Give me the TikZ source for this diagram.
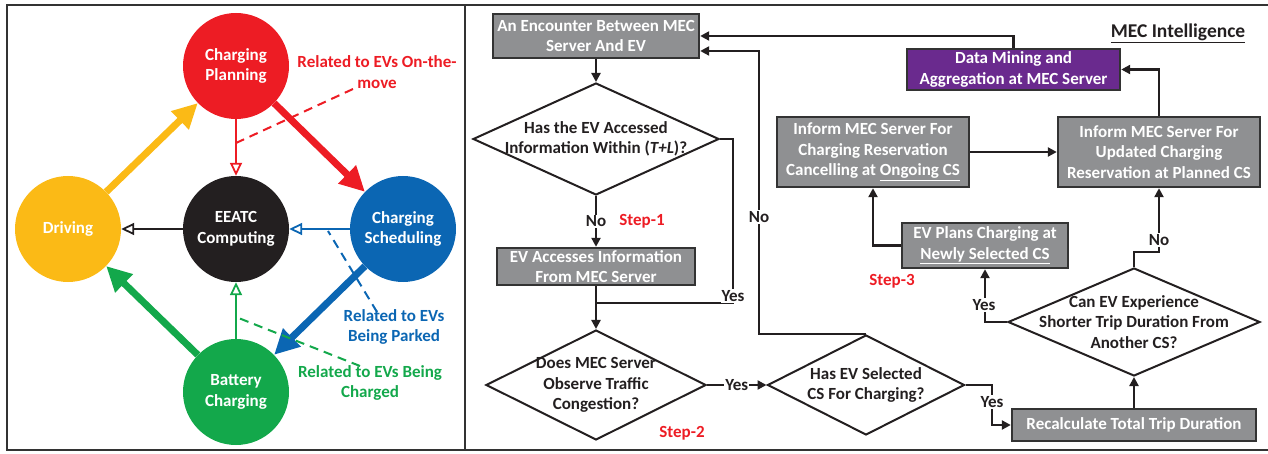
\documentclass[tikz,border=0pt]{standalone}
\usepackage{fontspec}
\setmainfont{Carlito}
\usetikzlibrary{arrows.meta,calc,shapes.geometric}
\definecolor{cpRed}{HTML}{ED1C24}
\definecolor{cpBlue}{HTML}{0B66B3}
\definecolor{cpYellow}{HTML}{FBBA16}
\definecolor{cpGreen}{HTML}{13A84B}
\definecolor{ink}{HTML}{231F20}
\definecolor{boxGray}{HTML}{8F9092}
\definecolor{boxEdge}{HTML}{333333}
\definecolor{minePurple}{HTML}{6A2A8E}
\tikzset{
%Define standard arrow tip
>={Triangle[length=9pt,width=9pt]},
%Define styles for the cycle on the left
phase/.style={circle, minimum size=106pt, inner sep=0pt, text=white, align=center},
bigarrow/.style={line width=7pt, -{Triangle[length=25pt,width=24pt]}},
thinarrow/.style={line width=1.8pt, -{Triangle[open,length=13pt,width=12pt,line width=1.8pt]}},
relation/.style={line width=2pt, dash pattern=on 9pt off 6pt},
reltext/.style={align=center, inner sep=0pt},
%Define styles for the flow chart
gbox/.style={rectangle, draw=boxEdge, fill=boxGray, line width=2.4pt, text=white, align=center, inner sep=0pt},
decision/.style={diamond, draw=ink, line width=2pt, inner sep=0pt},
qtext/.style={align=center, text=ink},
flow/.style={line width=2.4pt, draw=ink, ->},
tag/.style={fill=white, inner sep=1pt, text=ink},
steptag/.style={text=cpRed, inner sep=0pt},
}

\begin{document}
\begin{tikzpicture}[x=1pt, y=-1pt, font=\fontsize{17}{20.5}\selectfont\bfseries]
    \useasboundingbox (0,0) rectangle (1268,454);
    % Frame
    \draw[boxEdge, line width=2pt] (7,5) rectangle (1275,450);
    \draw[boxEdge, line width=2pt] (465,5) -- (465,450);

    % Cycle of EV states
    \node[phase, fill=cpRed] (plan) at (236,66) {Charging\\Planning};
    \node[phase, fill=ink] (core) at (236,229) {EEATC\\Computing};
    \node[phase, fill=cpYellow] (drive) at (68,229) {Driving};
    \node[phase, fill=cpBlue] (sched) at (403,229) {Charging\\Scheduling};
    \node[phase, fill=cpGreen] (batt) at (236,392) {Battery\\Charging};

    \draw[bigarrow, cpYellow] (drive) -- (plan);
    \draw[bigarrow, cpRed] (plan) -- (sched);
    \draw[bigarrow, cpBlue] (sched) -- (batt);
    \draw[bigarrow, cpGreen] (batt) -- (drive);

    \draw[thinarrow, cpRed] (plan) -- (core);
    \draw[thinarrow, cpBlue] (sched) -- (core);
    \draw[thinarrow, cpGreen] (batt) -- (core);
    \draw[thinarrow, ink] (core) -- (drive);

    % Relations
    \coordinate (moveEnd) at (236,143);
    \coordinate (moveStart) at (353,89);
    \coordinate (parkEnd) at (328,231);
    \coordinate (parkStart) at (377,312);
    \coordinate (chargeEnd) at (236,317);
    \coordinate (chargeStart) at (360,366);
    \draw[relation, cpRed] (moveStart) -- (moveEnd);
    \draw[relation, cpBlue] (parkStart) -- (parkEnd);
    \draw[relation, cpGreen] (chargeStart) -- (chargeEnd);
    \node[reltext, cpRed] (relMove) at (377,72) {Related to EVs On-the-\\move};
    \node[reltext, cpBlue] (relPark) at (394,327) {Related to EVs\\Being Parked};
    \node[reltext, cpGreen] (relCharge) at (370,383) {Related to EVs Being\\Charged};

    % Flow chart
    \node[gbox, minimum width=206pt, minimum height=44pt] (encounter) at (596,36) {An Encounter Between MEC\\Server And EV};
    \node[decision, minimum width=246pt, minimum height=112pt, label={[qtext]center:Has the EV Accessed\\Information Within (\textit{T+L})?}] (accessQ) at (596,139) {};
    \node[gbox, minimum width=198pt, minimum height=37pt] (access) at (596,266.5) {EV Accesses Information\\From MEC Server};
    \node[decision, minimum width=220pt, minimum height=110pt, label={[qtext]center:Does MEC Server\\Observe Traffic\\Congestion?}] (congestQ) at (596,385) {};
    \node[decision, minimum width=197pt, minimum height=100pt, label={[qtext]center:Has EV Selected\\CS For Charging?}] (selectQ) at (866,385) {};
    \node[gbox, minimum width=244pt, minimum height=32pt] (recalc) at (1134,425) {Recalculate Total Trip Duration};
    \node[decision, minimum width=252pt, minimum height=108pt, label={[qtext]center:Can EV Experience\\Shorter Trip Duration From\\Another CS?}] (shorterQ) at (1134,322) {};
    \node[gbox, minimum width=166pt, minimum height=45pt] (newcs) at (985,245.5) {EV Plans Charging at\\\underline{Newly Selected CS}};
    \node[gbox, minimum width=192pt, minimum height=70pt] (ongoing) at (873,152) {Inform MEC Server For\\Charging Reservation\\Cancelling at \underline{Ongoing CS}};
    \node[gbox, minimum width=202pt, minimum height=70pt] (planned) at (1159,152) {Inform MEC Server For\\Updated Charging\\Reservation at Planned CS};
    \node[gbox, fill=minePurple, minimum width=213pt, minimum height=41pt] (mining) at (1013.5,69.5) {Data Mining and\\Aggregation at MEC Server};

    \coordinate (merge) at (596,303);
    \coordinate (backNo) at ($(encounter.east)+(0,15)$);

    \draw[flow] (encounter) -- (accessQ);
    \draw[flow] (accessQ) -- node[tag] (noAccess) {No} (access);
    \draw[flow] (access) -- (congestQ);
    \draw[flow, -] (accessQ.east) -| (733,303) -- (merge);
    \node[tag] (yesAccess) at (733,296) {Yes};
    \draw[flow] (congestQ) -- node[tag] (yesCongest) {Yes} (selectQ);
    \draw[flow] (selectQ.north) -| (759,200) |- (backNo);
    \node[tag] (noSelect) at (759,217) {No};
    \draw[flow] (selectQ.east) -| (992,400) |- (recalc.west);
    \node[tag] (yesSelect) at (992,402) {Yes};
    \draw[flow] (recalc) -- (shorterQ);
    \draw[flow] (shorterQ.north) |- (1159,252) -- (planned.south);
    \node[tag] (noShorter) at (1159,240) {No};
    \draw[flow] (shorterQ.west) -| (newcs.south);
    \node[tag] (yesShorter) at (984,305) {Yes};
    \draw[flow] (newcs.west) -| (ongoing.south);
    \draw[flow] (ongoing) -- (planned);
    \draw[flow] (planned.north) |- (mining.east);
    \draw[flow] (mining.north) |- (encounter.east);

    % Steps
    \node[steptag] (step1) at (642,221) {Step-1};
    \node[steptag] (step2) at (682,433) {Step-2};
    \node[steptag] (step3) at (892,281) {Step-3};
    \node[text=ink, font=\fontsize{19.5}{22}\selectfont\bfseries] (mecTitle) at (1178,33) {\underline{MEC Intelligence}};
\end{tikzpicture}
\end{document}
